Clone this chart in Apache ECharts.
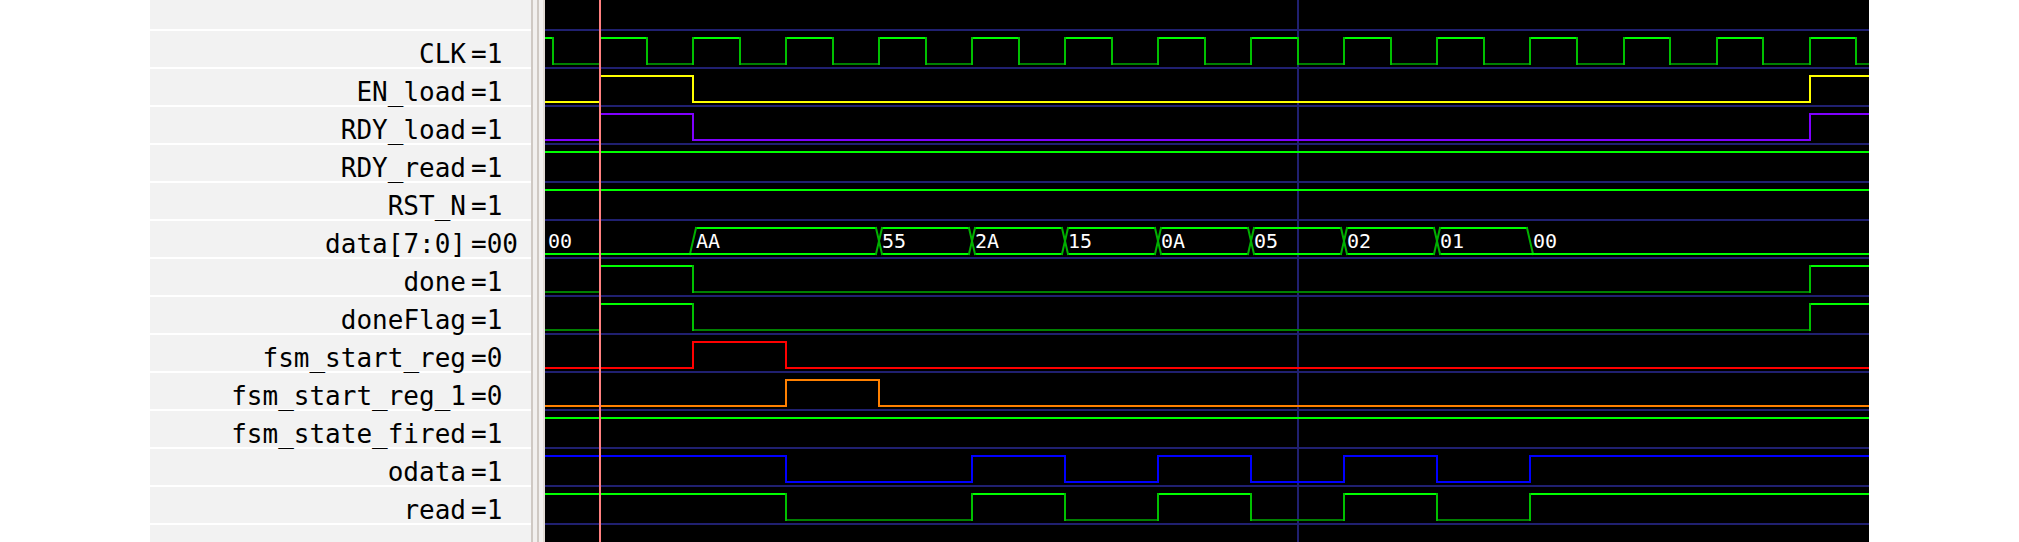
<!DOCTYPE html>
<html>
<head>
<meta charset="utf-8">
<script src="https://cdn.jsdelivr.net/npm/echarts@6.0.0/dist/echarts.min.js"></script>
<style>
html,body{margin:0;padding:0;background:#ffffff;}
#c{width:2019px;height:542px;}
</style>
</head>
<body>
<div id="c"></div>
<script>
// ---------------- data ----------------
const signalNames = ['CLK','EN_load','RDY_load','RDY_read','RST_N','data[7:0]','done','doneFlag','fsm_start_reg','fsm_start_reg_1','fsm_state_fired','odata','read'];
const cursorValues = ['1','1','1','1','1','00','1','1','0','0','1','1','1'];
const initialLevels = [1,0,0,1,1,null,0,0,0,0,1,1,1];
const toggleTimes = [
  [5,10,15,20,25,30,35,40,45,50,55,60,65,70,75,80,85,90,95,100,105,110,115,120,125,130,135,140,145],
  [10,20,140],
  [10,20,140],
  [],
  [],
  null,
  [10,20,140],
  [10,20,140],
  [20,30],
  [30,40],
  [],
  [30,50,60,70,80,90,100,110],
  [30,50,60,70,80,90,100,110]
];
const busRow = 5;
const busChangeTimes = [20,40,50,60,70,80,90,100,110];
const busValues = ['00','AA','55','2A','15','0A','05','02','01','00'];
const traceColors = [null,'#ffff00','#8000ff',null,null,null,null,null,'#ff0000','#ff8000',null,'#0000ff',null];
const cursorTime = 10;
const markerTime = 85;
const viewStart = 4.09;
const viewEnd = 146.38;

// ---------------- helpers ----------------
const HIGH = 8/38, LOW = 34/38;
function seg(x1,y1,x2,y2,style){
  return {type:'line', shape:{x1:x1,y1:y1,x2:x2,y2:y2}, style:Object.assign({lineCap:'square'},style)};
}

// digital segments built from the arrays above
const digitalSeries = [];
signalNames.forEach(function(name, i){
  if (toggleTimes[i] === null) return;
  const data = [];
  let lvl = initialLevels[i], prev = -1, t = viewStart;
  const tt = toggleTimes[i].concat([viewEnd]);
  tt.forEach(function(te){
    data.push([t, te, lvl, prev, i]);
    prev = lvl; lvl = 1 - lvl; t = te;
  });
  digitalSeries.push({
    type:'custom', name:name, xAxisIndex:0, yAxisIndex:0, z:3, clip:true, silent:true,
    data:data,
    renderItem:function(params, api){
      const t0=api.value(0), t1=api.value(1), l=api.value(2), p=api.value(3), row=api.value(4);
      const c = traceColors[row];
      const yH = Math.round(api.coord([t0,row+HIGH])[1]);
      const yL = Math.round(api.coord([t0,row+LOW])[1]);
      const xa = Math.round(api.coord([t0,row])[0]);
      const xb = Math.round(api.coord([t1,row])[0]);
      const y = l ? yH : yL;
      const ch = [];
      ch.push(seg(xa,y,xb,y,{stroke: c || (l ? '#00ff00' : '#008000'), lineWidth:2}));
      if (p !== -1 && p !== l) {
        ch.push(seg(xa,yH,xa,yL,{stroke: c || '#00c000', lineWidth:2}));
      }
      return {type:'group', children:ch};
    }
  });
});

// bus segments
const busData = [];
(function(){
  let t = viewStart;
  const ends = busChangeTimes.concat([viewEnd]);
  ends.forEach(function(te, k){
    busData.push([t, te, k, busRow, k-1]);
    t = te;
  });
})();

function isZeroVal(v){ return parseInt(v,16) === 0; }

const busSeries = {
  type:'custom', name:signalNames[busRow], xAxisIndex:0, yAxisIndex:0, z:3, clip:true, silent:true,
  data:busData,
  renderItem:function(params, api){
    const t0=api.value(0), t1=api.value(1), vi=api.value(2), row=api.value(3), pi=api.value(4);
    const val = busValues[vi];
    const zero = isZeroVal(val);
    const D = 3;
    const xa = Math.round(api.coord([t0,row])[0]);
    const xb = Math.round(api.coord([t1,row])[0]);
    const yT = Math.round(api.coord([t0,row+HIGH])[1]);
    const yB = Math.round(api.coord([t0,row+LOW])[1]);
    const first = pi < 0, last = t1 >= viewEnd;
    const s = first ? xa : xa + D, e = last ? xb : xb - D;
    const st = {stroke:'#00ff00', lineWidth:2};
    const tr = {stroke:'#00b000', lineWidth:2};
    const ch = [];
    ch.push(seg(s,yB,e,yB,st));
    if (!zero) ch.push(seg(s,yT,e,yT,st));
    if (!first) {
      const pz = isZeroVal(busValues[pi]);
      if (!zero) ch.push(seg(xa-D,yB,xa+D,yT,tr));
      if (!pz) ch.push(seg(xa-D,yT,xa+D,yB,tr));
      if (zero || pz) ch.push(seg(xa-D,yB,xa+D,yB,st));
    }
    const ty = api.coord([t0,row+21.2/38])[1];
    ch.push({type:'text', style:{text:val, x:xa+3, y:ty, fill:'#ffffff',
      font:'20px "DejaVu Sans Mono"', align:'left', verticalAlign:'middle'}});
    return {type:'group', children:ch};
  }
};

function vline(color, z, value){
  return {
    type:'custom', xAxisIndex:0, yAxisIndex:0, z:z, silent:true, clip:true,
    data:[[value]],
    renderItem:function(params, api){
      const x = Math.round(api.coord([api.value(0), 0])[0]);
      return {type:'line', shape:{x1:x,y1:0,x2:x,y2:542}, style:{stroke:color, lineWidth:2}};
    }
  };
}

// label panel series
const labelSeries = {
  type:'custom', xAxisIndex:1, yAxisIndex:1, z:3, silent:true,
  data: signalNames.map(function(n,i){ return [i]; }),
  renderItem:function(params, api){
    const i = api.value(0);
    const pn = api.coord([316, i + 24.1/38]);
    const pv = api.coord([321, i + 24.1/38]);
    return {type:'group', children:[
      {type:'text', style:{text:signalNames[i], x:pn[0], y:pn[1], fill:'#000000',
        font:'26px "DejaVu Sans Mono"', align:'right', verticalAlign:'middle'}},
      {type:'text', style:{text:'=' + cursorValues[i], x:pv[0], y:pv[1], fill:'#000000',
        font:'26px "DejaVu Sans Mono"', align:'left', verticalAlign:'middle'}}
    ]};
  }
};

const yAxisBase = {
  type:'value', inverse:true, min:-1, max:14, interval:1,
  axisLine:{show:false}, axisTick:{show:false}, axisLabel:{show:false}
};

const option = {
  backgroundColor:'#ffffff',
  animation:false,
  grid:[
    {left:545, top:-8, width:1324, height:570, show:true, backgroundColor:'#000000', borderWidth:0, outerBoundsMode:'none'},
    {left:150, top:-8, width:381, height:570, show:true, backgroundColor:'#f2f2f2', borderWidth:0, outerBoundsMode:'none'}
  ],
  xAxis:[
    {type:'value', gridIndex:0, min:viewStart, max:viewEnd, show:false},
    {type:'value', gridIndex:1, min:0, max:381, show:false}
  ],
  yAxis:[
    Object.assign({gridIndex:0, splitLine:{show:true, lineStyle:{color:'#202070', width:2}}}, yAxisBase),
    Object.assign({gridIndex:1, splitLine:{show:true, lineStyle:{color:'#ffffff', width:2}}}, yAxisBase)
  ],
  graphic:[
    {type:'rect', left:531, top:0, shape:{width:14, height:542}, style:{fill:'#f2f0ee'}, silent:true},
    {type:'rect', left:531, top:0, shape:{width:2, height:542}, style:{fill:'#cfc9c3'}, silent:true},
    {type:'rect', left:537, top:0, shape:{width:2, height:542}, style:{fill:'#cfc9c3'}, silent:true},
    {type:'rect', left:543, top:0, shape:{width:2, height:542}, style:{fill:'#e2dcd6'}, silent:true}
  ],
  series: [vline('#202070', 1, markerTime)]
    .concat(digitalSeries)
    .concat([busSeries, vline('#ff8080', 5, cursorTime), labelSeries])
};

const chart = echarts.init(document.getElementById('c'), null, {renderer:'svg'});
chart.setOption(option);
</script>
</body>
</html>
